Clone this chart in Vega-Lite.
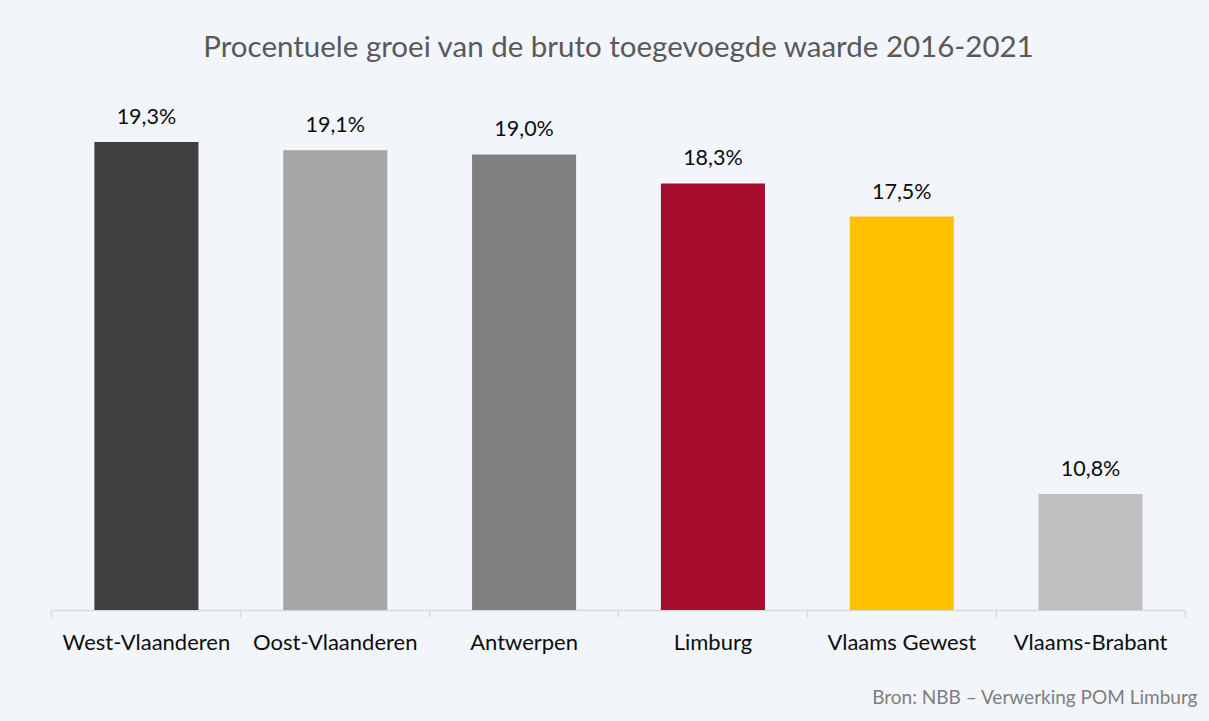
{
  "$schema": "https://vega.github.io/schema/vega-lite/v6.json",
  "width": 1133,
  "height": 497,
  "autosize": {"type": "none"},
  "padding": {"left": 52, "top": 113, "right": 24, "bottom": 111},
  "background": "#F2F5FA",
  "config": {
    "view": {"stroke": null},
    "font": "Lato",
    "locale": {"number": {"decimal": ",", "thousands": ".", "grouping": [3], "currency": ["€", ""]}}
  },
  "title": {
    "text": "Procentuele groei van de bruto toegevoegde waarde 2016-2021",
    "fontSize": 29.5,
    "fontWeight": "normal",
    "color": "#595959",
    "anchor": "middle",
    "frame": "group",
    "baseline": "alphabetic",
    "offset": 20
  },
  "data": {
    "values": [
      {"regio": "West-Vlaanderen", "groei": 0.193},
      {"regio": "Oost-Vlaanderen", "groei": 0.191},
      {"regio": "Antwerpen", "groei": 0.190},
      {"regio": "Limburg", "groei": 0.183},
      {"regio": "Vlaams Gewest", "groei": 0.175},
      {"regio": "Vlaams-Brabant", "groei": 0.108}
    ]
  },
  "resolve": {"axis": {"x": "independent"}},
  "layer": [
    {
      "mark": {"type": "bar", "clip": true},
      "encoding": {
        "x": {
          "field": "regio", "type": "nominal", "sort": null,
          "scale": {"paddingInner": 0.449, "paddingOuter": 0.2245},
          "axis": {
            "orient": "bottom",
            "bandPosition": -0.408,
            "domainColor": "#D9D9D9",
            "domainWidth": 1.5,
            "tickColor": "#D9D9D9",
            "tickWidth": 1.5,
            "tickSize": 7,
            "labelAngle": 0,
            "labelFontSize": 22,
            "labelColor": "#0D0D0D",
            "labelBaseline": "alphabetic",
            "labelPadding": 32,
            "title": "Bron: NBB – Verwerking POM Limburg",
            "titleFontSize": 19,
            "titleFontWeight": "normal",
            "titleColor": "#7F7F7F",
            "titleAnchor": "end",
            "titleAlign": "right",
            "titleBaseline": "alphabetic",
            "titleX": 1145,
            "titleY": 93
          }
        },
        "y": {
          "field": "groei", "type": "quantitative",
          "scale": {"domain": [0.08, 0.20], "zero": false},
          "axis": null
        },
        "color": {
          "field": "regio", "type": "nominal", "legend": null,
          "scale": {
            "domain": ["West-Vlaanderen", "Oost-Vlaanderen", "Antwerpen", "Limburg", "Vlaams Gewest", "Vlaams-Brabant"],
            "range": ["#404040", "#A6A6A6", "#808080", "#A50C2E", "#FFC000", "#BFBFBF"]
          }
        }
      }
    },
    {
      "mark": {"type": "text", "dy": -18, "baseline": "alphabetic", "fontSize": 21.5, "color": "#0D0D0D"},
      "encoding": {
        "x": {
          "field": "regio", "type": "nominal", "sort": null,
          "axis": {
            "orient": "bottom",
            "values": ["Vlaams-Brabant"],
            "bandPosition": 1.408,
            "domain": false,
            "labels": false,
            "grid": false,
            "tickColor": "#D9D9D9",
            "tickWidth": 1.5,
            "tickSize": 7,
            "title": null
          }
        },
        "y": {"field": "groei", "type": "quantitative"},
        "text": {"field": "groei", "type": "quantitative", "format": ".1%"}
      }
    }
  ]
}
